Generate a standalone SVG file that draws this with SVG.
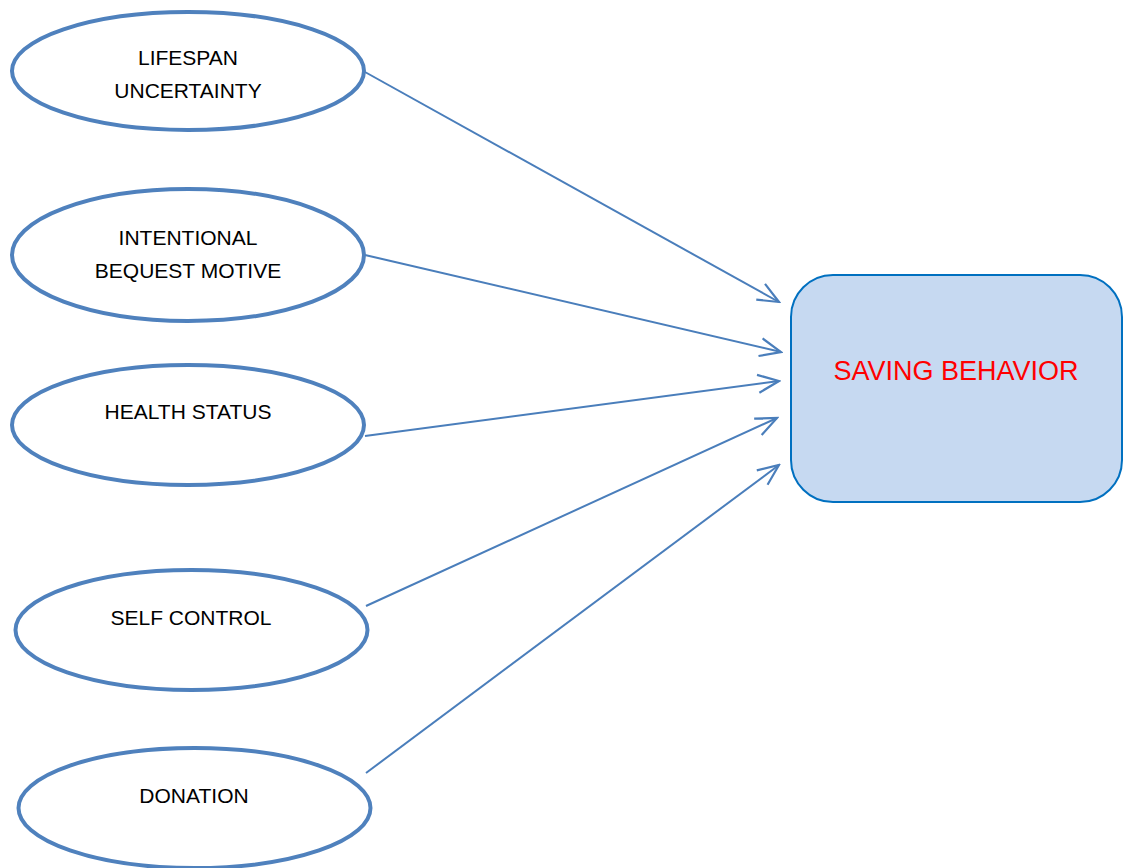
<svg xmlns="http://www.w3.org/2000/svg" width="1123" height="868" viewBox="0 0 1123 868">
<style>
.node ellipse{fill:#ffffff;stroke:#4f81bd;stroke-width:4}
.lbl{font-family:"Liberation Sans",Arial,sans-serif;font-size:21px;fill:#000;text-anchor:middle}
.conn line{stroke:#4a7ebb;stroke-width:2;marker-end:url(#arr)}
</style>
<defs>
<marker id="arr" markerUnits="userSpaceOnUse" viewBox="0 0 26 22" refX="24" refY="11" markerWidth="26" markerHeight="22" orient="auto">
<path d="M3,2 L24,11 L3,20" fill="none" stroke="#4a7ebb" stroke-width="2.2"/>
</marker>
</defs>
<rect width="1123" height="868" fill="#ffffff"/>
<g id="connectors" class="conn">
<line x1="365" y1="72" x2="779" y2="302"/>
<line x1="365" y1="255" x2="781" y2="352"/>
<line x1="365" y1="436" x2="779" y2="381"/>
<line x1="366" y1="606" x2="777" y2="418"/>
<line x1="366" y1="773" x2="779" y2="465"/>
</g>
<g id="lifespan" class="node">
<ellipse cx="188" cy="71" rx="176" ry="59"/>
<text class="lbl" x="188" y="65">LIFESPAN</text>
<text class="lbl" x="188" y="98">UNCERTAINTY</text>
</g>
<g id="bequest" class="node">
<ellipse cx="188" cy="255" rx="176" ry="66"/>
<text class="lbl" x="188" y="245">INTENTIONAL</text>
<text class="lbl" x="188" y="278">BEQUEST MOTIVE</text>
</g>
<g id="health" class="node">
<ellipse cx="188" cy="425" rx="176" ry="60"/>
<text class="lbl" x="188" y="419">HEALTH STATUS</text>
</g>
<g id="selfcontrol" class="node">
<ellipse cx="191.5" cy="630" rx="176" ry="60"/>
<text class="lbl" x="191" y="625">SELF CONTROL</text>
</g>
<g id="donation" class="node">
<ellipse cx="194.5" cy="808" rx="176" ry="60"/>
<text class="lbl" x="194" y="803">DONATION</text>
</g>
<g id="saving">
<rect x="791" y="275" width="331" height="227" rx="42" ry="42" fill="#c6d9f1" stroke="#0070c0" stroke-width="2"/>
<text x="956" y="380" font-family="'Liberation Sans',Arial,sans-serif" font-size="27" fill="#ff0000" text-anchor="middle">SAVING BEHAVIOR</text>
</g>
</svg>
